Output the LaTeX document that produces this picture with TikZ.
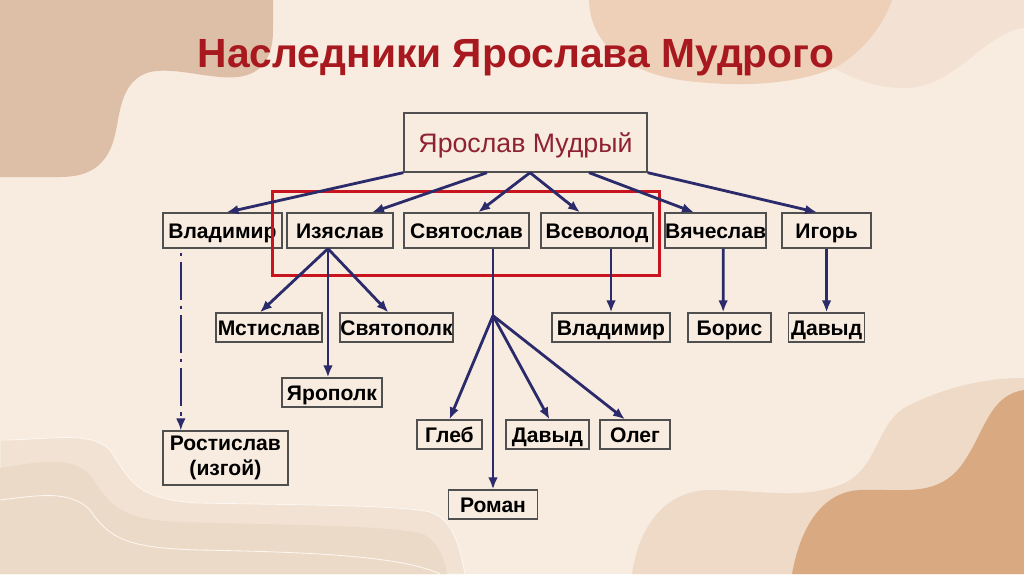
\documentclass[tikz,border=0pt]{standalone}
\usepackage{fontspec}
\setmainfont{Liberation Sans}
\usetikzlibrary{arrows.meta, positioning}
\definecolor{bgbeige}{HTML}{F8EBDF}
\definecolor{blobtan}{HTML}{DDBFA8}
\definecolor{blobpeach}{HTML}{EECFB8}
\definecolor{blobpale}{HTML}{F3E1D3}
\definecolor{dunelight}{HTML}{EEDAC7}
\definecolor{dunedark}{HTML}{D9A982}
\definecolor{sandlight}{HTML}{F1E2D3}
\definecolor{sanddark}{HTML}{ECDAC8}
\definecolor{titlered}{HTML}{A8191F}
\definecolor{rootred}{HTML}{8E2233}
\definecolor{arrowblue}{HTML}{2B2A6A}
\definecolor{framered}{HTML}{C8141E}
\definecolor{boxgray}{HTML}{505050}

\begin{document}
\begin{tikzpicture}[x=0.025cm, y=-0.025cm, >={Latex[length=3mm,width=2.4mm]}, on grid, auto,
  heir/.style={draw=boxgray, line width=0.9pt, fill=bgbeige, inner sep=0pt,
    font=\bfseries\fontsize{15}{18}\selectfont, text height=11pt, text depth=0pt,
    minimum height=0.875cm},
  kid/.style={heir, minimum height=0.725cm},
  link/.style={color=arrowblue, line width=2pt}]
  \useasboundingbox (0,0) rectangle (1024,574);
  % background
  \fill[bgbeige] (0,0) rectangle (1024,574);
  \fill[blobtan] (0,0) -- (273,0) -- (273,30) .. controls (273,70) and (250,80) .. (220,77)
    .. controls (190,74) and (170,68) .. (150,72) .. controls (120,80) and (120,115) .. (115,135)
    .. controls (108,165) and (90,177) .. (60,177) -- (0,177) -- cycle;
  \fill[blobpale] (800,0) -- (1024,0) -- (1024,28) .. controls (985,32) and (955,88) .. (905,88)
    .. controls (870,88) and (845,75) .. (820,60) -- cycle;
  \fill[blobpeach] (589,0) .. controls (590,40) and (620,70) .. (680,80)
    .. controls (740,88) and (800,85) .. (840,65) .. controls (870,45) and (885,20) .. (892,0) -- cycle;
  \fill[dunelight] (632,574) .. controls (640,520) and (670,490) .. (710,490)
    .. controls (760,490) and (800,500) .. (840,485) .. controls (880,470) and (875,420) .. (910,405)
    .. controls (950,385) and (990,378) .. (1024,378) -- (1024,574) -- cycle;
  \fill[dunedark] (792,574) .. controls (800,530) and (820,492) .. (860,490)
    .. controls (900,488) and (940,500) .. (965,460) .. controls (985,430) and (990,395) .. (1024,390)
    -- (1024,574) -- cycle;
  \filldraw[fill=sandlight, draw=white!60!bgbeige, line width=0.6pt] (0,440) .. controls (50,440) and (90,430) .. (110,450)
    .. controls (130,480) and (135,500) .. (200,503) .. controls (300,505) and (400,505) .. (430,512)
    .. controls (455,520) and (460,550) .. (465,574) -- (0,574) -- cycle;
  \fill[sanddark] (0,468) .. controls (40,462) and (70,455) .. (90,475)
    .. controls (110,505) and (120,520) .. (180,522) .. controls (280,525) and (400,525) .. (425,535)
    .. controls (440,545) and (445,560) .. (447,574) -- (0,574) -- cycle;
  \draw[white!60!bgbeige, line width=0.6pt] (0,500) .. controls (40,495) and (70,490) .. (90,510)
    .. controls (110,540) and (130,548) .. (200,550) .. controls (300,552) and (400,555) .. (440,574);

  % tree
  \node[heir, minimum width=6.075cm, minimum height=1.475cm, font=\fontsize{19}{22}\selectfont,
    text height=13.6pt, text=rootred] (root) at (525.5,142.5) {Ярослав Мудрый};
  \node[font=\bfseries\fontsize{29}{34}\selectfont, text=titlered] (title)
    [above left=2.115cm and 0.24cm of root] {Наследники Ярослава Мудрого};

  \node[heir, minimum width=2.975cm] (vlad) [below left=2.2cm and 7.575cm of root] {Владимир};
  \node[heir, minimum width=2.65cm] (izya) [right=2.9375cm of vlad] {Изяслав};
  \node[heir, minimum width=3.125cm] (svya) [right=3.1625cm of izya] {Святослав};
  \node[heir, minimum width=2.8cm] (vsev) [right=3.2625cm of svya] {Всеволод};
  \node[heir, minimum width=2.525cm] (vyach) [right=2.9625cm of vsev] {Вячеслав};
  \node[heir, minimum width=2.225cm] (igor) [right=2.775cm of vyach] {Игорь};

  \node[kid, minimum width=2.65cm] (mstis) [below left=2.425cm and 1.775cm of izya] {Мстислав};
  \node[kid, minimum width=2.825cm] (svyat) [below right=2.425cm and 1.4125cm of izya] {Святополк};
  \node[kid, minimum width=2.5cm] (yarop) [below left=4.05cm and 0.2cm of izya] {Ярополк};
  \node[kid, minimum width=2.95cm] (vladV) [below right=2.425cm and 0.35cm of vsev] {Владимир};
  \node[kid, minimum width=2.075cm] (boris) [below right=2.425cm and 0.35cm of vyach] {Борис};
  \node[kid, minimum width=1.9cm] (davidI) [below=2.425cm of igor] {Давыд};

  \node[kid, minimum width=1.625cm] (gleb) [below left=5.1cm and 0.425cm of svya] {Глеб};
  \node[kid, minimum width=2.075cm] (davidS) [below right=5.1cm and 2.025cm of svya] {Давыд};
  \node[kid, minimum width=1.75cm] (oleg) [below right=5.1cm and 4.2125cm of svya] {Олег};
  \node[kid, minimum width=2.225cm] (roman) [below right=6.85cm and 0.6625cm of svya] {Роман};
  \node[kid, minimum width=3.125cm, minimum height=1.35cm, text height=, text depth=, align=center] (rost)
    [below right=5.6875cm and 0.075cm of vlad] {Ростислав\\(изгой)};

  % the middle sons
  \draw[framered, line width=2.2pt] ([shift={(-0.35cm,0.525cm)}]izya.north west)
    rectangle ([shift={(0.15cm,-0.675cm)}]vsev.south east);

  \path[->, link]
    (root.south west) edge ([xshift=0.1cm]vlad.north)
    ([xshift=-0.9625cm]root.south) edge ([xshift=0.8cm]izya.north)
    ([xshift=0.1125cm]root.south) edge ([xshift=0.29cm]svya.north)
    ([xshift=0.1125cm]root.south) edge ([xshift=-0.425cm]vsev.north)
    ([xshift=1.5875cm]root.south) edge ([xshift=-0.5375cm]vyach.north)
    (root.south east) edge ([xshift=-0.2375cm]igor.north)
    ([xshift=-0.3cm]izya.south) edge ([xshift=-0.225cm]mstis.north)
    ([xshift=-0.3cm]izya.south) edge ([xshift=-0.1cm]yarop.north)
    ([xshift=-0.3cm]izya.south) edge ([xshift=-0.2cm]svyat.north)
    (vladV.north |- vsev.south) edge (vladV.north)
    ([xshift=0.19cm]vyach.south) edge ([xshift=-0.16cm]boris.north)
    (igor.south) edge (davidI.north);

  \coordinate (hub) at ([xshift=0.6625cm, yshift=-1.675cm]svya.south);
  \draw[link] ([xshift=0.6625cm]svya.south) -- (hub);
  \path[->, link]
    (hub) edge (gleb.north)
    (hub) edge ([xshift=0.05cm]davidS.north)
    (hub) edge ([xshift=-0.25cm]oleg.north)
    (hub) edge (roman.north);

  \coordinate (vladfoot) at ([xshift=-1.04cm]vlad.south);
  \draw[->, link, line width=1.6pt, dash pattern=on 0.08cm off 0.15cm on 0.95cm off 0.15cm, dash phase=1.23cm]
    (vladfoot) -- (vladfoot |- rost.north);
\end{tikzpicture}
\end{document}
